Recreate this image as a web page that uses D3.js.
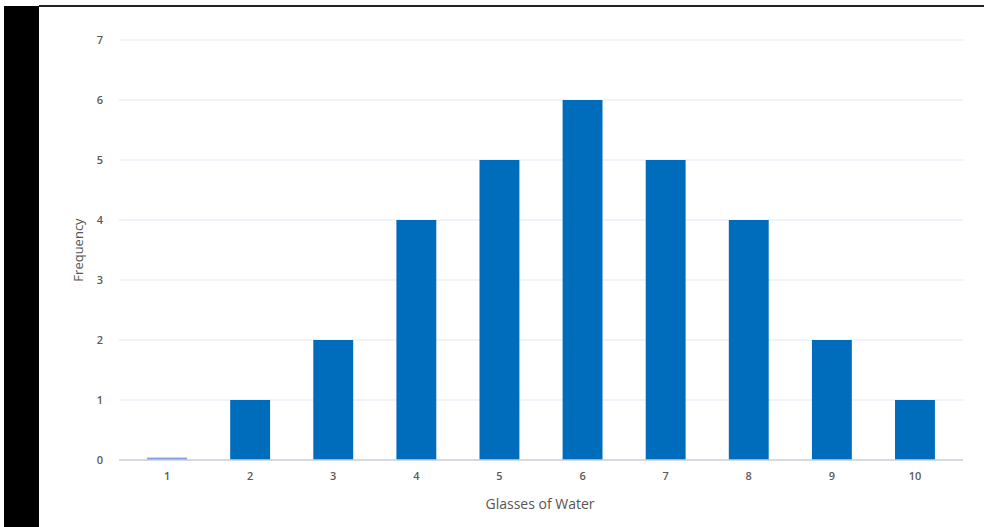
<!DOCTYPE html>
<html>
<head>
<meta charset="utf-8">
<script src="https://cdn.jsdelivr.net/npm/d3@7"></script>
<style>
  body { margin: 0; background: #fff; }
  text { font-family: "Open Sans", "DejaVu Sans", sans-serif; }
</style>
</head>
<body>
<script>
var glasses = ["1", "2", "3", "4", "5", "6", "7", "8", "9", "10"];
var frequency = [0.04, 1, 2, 4, 5, 6, 5, 4, 2, 1];
var yTicks = [0, 1, 2, 3, 4, 5, 6, 7];

var width = 984, height = 527;
var margin = {top: 40, right: 21, bottom: 67, left: 119};

var svg = d3.select("body").append("svg")
  .attr("width", width)
  .attr("height", height);

// frame: black band on the left and a dark line on top
svg.append("rect")
  .attr("x", 4).attr("y", 6)
  .attr("width", 35).attr("height", height - 6)
  .attr("fill", "#000");
svg.append("line")
  .attr("x1", 39).attr("x2", width)
  .attr("y1", 6).attr("y2", 6)
  .attr("stroke", "#222").attr("stroke-width", 2);

var x = d3.scaleBand()
  .domain(glasses)
  .range([margin.left, width - margin.right])
  .paddingInner(0.52)
  .paddingOuter(0.338);

var y = d3.scaleLinear()
  .domain([0, 7])
  .range([height - margin.bottom, margin.top]);

// gridlines
svg.append("g")
  .selectAll("line")
  .data(yTicks.slice(1))
  .enter().append("line")
  .attr("x1", margin.left)
  .attr("x2", width - margin.right)
  .attr("y1", function(d) { return y(d); })
  .attr("y2", function(d) { return y(d); })
  .attr("stroke", "#ebf1f8")
  .attr("stroke-width", 1.5);

// y tick labels
svg.append("g")
  .selectAll("text")
  .data(yTicks)
  .enter().append("text")
  .attr("x", 100)
  .attr("y", function(d) { return y(d); })
  .attr("dy", "0.35em")
  .attr("text-anchor", "middle")
  .attr("font-size", 11)
  .attr("font-weight", 600)
  .attr("fill", "#5a5a5a")
  .text(function(d) { return d; });

// bars
svg.append("g")
  .selectAll("rect")
  .data(frequency)
  .enter().append("rect")
  .attr("x", function(d, i) { return x(glasses[i]); })
  .attr("y", function(d) { return y(d); })
  .attr("width", x.bandwidth())
  .attr("height", function(d) { return y(0) - y(d); })
  .attr("fill", function(d) { return d < 0.5 ? "#7f9fdc" : "#006cbc"; });

// baseline
svg.append("line")
  .attr("x1", margin.left)
  .attr("x2", width - margin.right)
  .attr("y1", y(0)).attr("y2", y(0))
  .attr("stroke", "#c9ced6")
  .attr("stroke-width", 1.5);

// x tick labels
svg.append("g")
  .selectAll("text")
  .data(glasses)
  .enter().append("text")
  .attr("x", function(d) { return x(d) + x.bandwidth() / 2; })
  .attr("y", 476)
  .attr("dy", "0.35em")
  .attr("text-anchor", "middle")
  .attr("font-size", 11)
  .attr("font-weight", 600)
  .attr("fill", "#5a5a5a")
  .text(function(d) { return d; });

// axis titles
svg.append("text")
  .attr("x", 540)
  .attr("y", 504)
  .attr("dy", "0.35em")
  .attr("text-anchor", "middle")
  .attr("font-size", 14)
  .attr("fill", "#555")
  .text("Glasses of Water");

svg.append("text")
  .attr("transform", "translate(78," + 250 + ") rotate(-90)")
  .attr("dy", "0.35em")
  .attr("text-anchor", "middle")
  .attr("font-size", 13)
  .attr("fill", "#555")
  .text("Frequency");
</script>
</body>
</html>
